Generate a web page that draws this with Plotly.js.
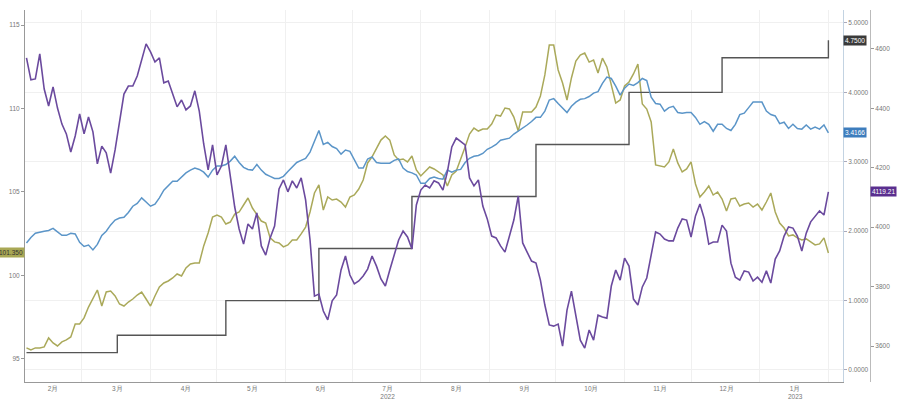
<!DOCTYPE html>
<html>
<head>
<meta charset="utf-8">
<script src="https://cdn.plot.ly/plotly-3.0.1.min.js"></script>
<style>
html,body{margin:0;padding:0;background:#fff;}
#chart{width:911px;height:407px;}
</style>
</head>
<body>
<div id="chart"></div>
<script>
const dates = [
'2022-02-04','2022-02-06','2022-02-08','2022-02-10','2022-02-12','2022-02-14','2022-02-16','2022-02-18','2022-02-20','2022-02-22','2022-02-24','2022-02-26','2022-02-28',
'2022-03-02','2022-03-04','2022-03-06','2022-03-08','2022-03-10','2022-03-12','2022-03-14','2022-03-16','2022-03-18','2022-03-20','2022-03-22','2022-03-24','2022-03-26','2022-03-28','2022-03-30',
'2022-04-01','2022-04-03','2022-04-05','2022-04-07','2022-04-09','2022-04-11','2022-04-13','2022-04-15','2022-04-17','2022-04-19','2022-04-21','2022-04-23','2022-04-25','2022-04-27','2022-04-29',
'2022-05-01','2022-05-03','2022-05-05','2022-05-07','2022-05-09','2022-05-11','2022-05-13','2022-05-15','2022-05-17','2022-05-19','2022-05-21','2022-05-23','2022-05-25','2022-05-27','2022-05-29','2022-05-31',
'2022-06-02','2022-06-04','2022-06-06','2022-06-08','2022-06-10','2022-06-12','2022-06-14','2022-06-16','2022-06-18','2022-06-20','2022-06-22','2022-06-24','2022-06-26','2022-06-28','2022-06-30',
'2022-07-02','2022-07-04','2022-07-06','2022-07-08','2022-07-10','2022-07-12','2022-07-14','2022-07-16','2022-07-18','2022-07-20','2022-07-22','2022-07-24','2022-07-26','2022-07-28','2022-07-30',
'2022-08-01','2022-08-03','2022-08-05','2022-08-07','2022-08-09','2022-08-11','2022-08-13','2022-08-15','2022-08-17','2022-08-19','2022-08-21','2022-08-23','2022-08-25','2022-08-27','2022-08-29','2022-08-31',
'2022-09-02','2022-09-04','2022-09-06','2022-09-08','2022-09-10','2022-09-12','2022-09-14','2022-09-16','2022-09-18','2022-09-20','2022-09-22','2022-09-24','2022-09-26','2022-09-28','2022-09-30',
'2022-10-02','2022-10-04','2022-10-06','2022-10-08','2022-10-10','2022-10-12','2022-10-14','2022-10-16','2022-10-18','2022-10-20','2022-10-22','2022-10-24','2022-10-26','2022-10-28','2022-10-30',
'2022-11-01','2022-11-03','2022-11-05','2022-11-07','2022-11-09','2022-11-11','2022-11-13','2022-11-15','2022-11-17','2022-11-19','2022-11-21','2022-11-23','2022-11-25','2022-11-27','2022-11-29',
'2022-12-01','2022-12-03','2022-12-05','2022-12-07','2022-12-09','2022-12-11','2022-12-13','2022-12-15','2022-12-17','2022-12-19','2022-12-21','2022-12-23','2022-12-25','2022-12-27','2022-12-29','2022-12-31',
'2023-01-02','2023-01-04','2023-01-06','2023-01-08','2023-01-10','2023-01-12','2023-01-14','2023-01-16','2023-01-18','2023-01-20','2023-01-22','2023-01-24','2023-01-26','2023-01-28','2023-01-30',
'2023-02-01'
];

// S&P 500 (right outer axis, 3600-4600)
const spx = [
4570,4496,4499,4583,4465,4408,4472,4401,4347,4314,
4253,4307,4381,4314,4371,4321,4213,4273,4250,4182,
4260,4358,4448,4475,4475,4509,4560,4617,4590,4556,
4570,4486,4492,4445,4405,4428,4395,4408,4459,4391,
4280,4193,4277,4176,4206,4277,4169,4068,3994,3943,
4011,3994,4048,3937,3906,3964,4004,4129,4159,4119,
4156,4132,4166,4092,3957,3768,3775,3718,3688,3752,
3772,3856,3903,3839,3809,3819,3836,3859,3903,3869,
3826,3802,3856,3910,3957,3987,3967,3927,4075,4125,
4142,4132,4156,4149,4125,4186,4270,4300,4290,4277,
4166,4139,4159,4071,4028,3970,3964,3937,3916,3970,
4024,4105,3947,3916,3886,3879,3822,3738,3671,3667,
3674,3600,3721,3785,3698,3620,3593,3654,3620,3704,
3698,3694,3802,3856,3822,3896,3869,3758,3738,3799,
3829,3906,3984,3977,3960,3954,3954,3997,4028,4024,
3967,4038,4078,4028,3943,3950,3950,4007,3987,3879,
3832,3822,3853,3849,3819,3832,3815,3853,3812,3893,
3920,3970,4001,3997,3970,3920,3980,4018,4038,4055,
4041,4119.21
];

// US 10Y yield (right inner axis, 0-5)
const ust10y = [
1.83,1.91,1.97,1.99,2.00,2.01,2.04,1.99,1.94,1.94,
1.97,1.96,1.84,1.78,1.80,1.73,1.81,1.94,2.00,2.09,
2.16,2.19,2.20,2.27,2.36,2.40,2.48,2.42,2.36,2.39,
2.48,2.59,2.66,2.72,2.72,2.78,2.84,2.88,2.91,2.89,
2.85,2.78,2.88,2.94,2.94,2.96,3.01,3.08,2.99,2.92,
2.89,2.88,2.96,2.88,2.82,2.79,2.76,2.76,2.79,2.86,
2.92,2.99,3.02,3.05,3.14,3.30,3.45,3.25,3.28,3.22,
3.19,3.11,3.17,3.15,3.04,2.91,2.91,3.04,3.07,2.99,
2.98,2.98,2.98,3.02,3.04,2.91,2.86,2.84,2.81,2.69,
2.69,2.76,2.78,2.76,2.75,2.88,2.85,2.88,2.89,2.99,
3.05,3.08,3.09,3.12,3.18,3.21,3.25,3.31,3.32,3.34,
3.40,3.44,3.48,3.53,3.58,3.64,3.64,3.73,3.89,3.91,
3.84,3.77,3.71,3.80,3.86,3.90,3.91,3.94,3.99,4.01,
4.13,4.22,4.20,4.09,3.96,4.06,4.12,4.10,4.14,4.20,
4.17,3.93,3.84,3.83,3.73,3.78,3.80,3.71,3.70,3.71,
3.71,3.64,3.54,3.58,3.54,3.44,3.54,3.54,3.48,3.45,
3.54,3.68,3.70,3.78,3.86,3.86,3.86,3.73,3.68,3.66,
3.55,3.57,3.48,3.54,3.48,3.47,3.53,3.47,3.50,3.47,
3.53,3.4166
];

// Dollar index (left axis, 95-115)
const dxy = [
95.66,95.54,95.66,95.66,95.72,96.26,95.96,95.78,96.02,96.14,
96.32,97.10,97.10,97.46,98.11,98.65,99.13,98.17,99.01,99.07,
98.77,98.29,98.17,98.41,98.59,98.83,99.01,98.59,98.17,98.77,
99.31,99.55,99.67,99.85,100.09,99.97,100.45,100.69,100.75,100.75,
101.77,102.54,103.50,103.62,103.50,103.08,103.20,103.68,103.80,104.22,
104.64,104.04,103.62,103.26,103.14,102.25,102.01,101.95,101.71,101.83,
102.13,102.13,102.49,102.90,103.80,104.94,105.42,103.92,104.70,104.52,
104.58,104.40,104.10,104.70,104.82,105.18,105.72,106.74,107.10,107.63,
108.11,108.35,108.11,107.22,106.92,106.98,106.80,107.16,106.32,105.96,
106.20,106.50,106.38,106.20,106.02,105.36,106.02,106.26,106.92,107.69,
108.47,108.83,108.65,108.77,108.77,109.07,109.61,109.55,110.03,109.97,
109.49,108.65,109.79,109.79,109.79,110.09,110.75,112.01,113.80,113.80,
112.31,111.53,110.51,111.83,112.84,113.20,113.32,112.78,112.90,112.13,
113.02,112.49,111.35,110.33,110.51,111.35,111.59,112.07,112.66,110.27,
109.97,109.19,106.62,106.56,106.50,106.80,107.57,106.74,106.20,106.38,
106.80,105.48,104.70,105.00,105.36,104.82,105.00,104.58,103.86,104.58,
104.64,104.16,104.28,104.34,104.10,104.28,103.92,104.40,104.94,103.80,
103.14,102.84,102.37,102.43,102.25,102.13,102.19,102.01,101.83,101.89,
102.25,101.35
];

// Fed funds target upper bound (right inner axis)
const fedDates = ['2022-02-04','2022-03-17','2022-05-05','2022-06-16','2022-07-28','2022-09-22','2022-11-03','2022-12-15','2023-02-01'];
const fedRate  = [0.25,0.50,1.00,1.75,2.50,3.25,4.00,4.50,4.75];

const monthTickDates = ['2022-02-16','2022-03-17','2022-04-17','2022-05-17','2022-06-17','2022-07-17','2022-08-17','2022-09-17','2022-10-17','2022-11-17','2022-12-17','2023-01-17'];
const monthTickText  = ['2月','3月','4月','5月','6月','7月<br>2022','8月','9月','10月','11月','12月','1月<br>2023'];

const dxyTicks = [95,100,105,110,115];
const rateTicks = [0,1,2,3,4,5];
const spxTicks = [3600,3800,4000,4200,4400,4600];

const C = {fed:'#555555', dxy:'#aaa95a', ust:'#5b95c8', spx:'#6b4a9e'};
const FONT = 'Liberation Sans, Arial, sans-serif';
const tickFont = {family: FONT, size: 6.5, color: '#777'};

const xEnd = 0.9612;
const traces = [
  {x: fedDates, y: fedRate, type:'scatter', mode:'lines', line:{color:C.fed, width:1.4, shape:'hv'}, yaxis:'y2', xaxis:'x'},
  {x: dates, y: dxy, type:'scatter', mode:'lines', line:{color:C.dxy, width:1.5}, yaxis:'y', xaxis:'x'},
  {x: dates, y: ust10y, type:'scatter', mode:'lines', line:{color:C.ust, width:1.5}, yaxis:'y2', xaxis:'x'},
  {x: dates, y: spx, type:'scatter', mode:'lines', line:{color:C.spx, width:1.6}, yaxis:'y3', xaxis:'x'}
];

const last = a => a[a.length-1];
const tag = (xref, x, xanchor, yref, y, text, bg, fc) => ({
  xref, x, xanchor, yref, y, yanchor:'middle', text, showarrow:false,
  bgcolor:bg, font:{family:FONT, size:6.5, color:fc}, borderpad:1
});

const layout = {
  width:911, height:407,
  margin:{l:25, r:35, t:10, b:25},
  paper_bgcolor:'#fff', plot_bgcolor:'#fff',
  showlegend:false,
  xaxis:{
    type:'date', domain:[0, xEnd],
    range:['2022-02-03 08:00','2023-02-07 14:00'],
    tickmode:'array', tickvals: monthTickDates, ticktext: monthTickText,
    tickfont: tickFont, ticks:'', showgrid:false,
    showline:true, linecolor:'#999', linewidth:1, zeroline:false,
    minor:{dtick:'M1', tick0:'2022-02-01', showgrid:true, gridcolor:'#f0f0f0', gridwidth:1, ticks:''},
    automargin:false
  },
  yaxis:{
    range:[93.62, 115.9], tickmode:'array', tickvals: dxyTicks,
    tickfont: tickFont, ticks:'outside', ticklen:3, tickcolor:'#999',
    showgrid:false, zeroline:false, showline:true, linecolor:'#999', linewidth:1,
    automargin:false
  },
  yaxis2:{
    overlaying:'y', side:'right', anchor:'x',
    range:[-0.173, 5.187], tickmode:'array', tickvals: rateTicks, tickformat:'.4f',
    tickfont: tickFont, ticks:'outside', ticklen:3, tickcolor:'#aab',
    showgrid:true, gridcolor:'#f0f0f0', zeroline:false,
    showline:true, linecolor:'#c3d3e2', linewidth:1, automargin:false
  },
  yaxis3:{
    overlaying:'y', side:'right', anchor:'free', position:0.993,
    range:[3479, 4731], tickmode:'array', tickvals: spxTicks,
    tickfont: tickFont, ticks:'outside', ticklen:3, tickcolor:'#999',
    showgrid:false, zeroline:false, showline:true, linecolor:'#bbb', linewidth:1,
    automargin:false
  },
  annotations:[
    tag('paper', 0, 'right', 'y', last(dxy), last(dxy).toFixed(3), '#a9a855', '#333'),
    tag('paper', xEnd, 'left', 'y2', last(fedRate), last(fedRate).toFixed(4), '#3a3a3a', '#fff'),
    tag('paper', xEnd, 'left', 'y2', last(ust10y), last(ust10y).toFixed(4), '#3d7dbd', '#fff'),
    tag('paper', 0.993, 'left', 'y3', last(spx), last(spx).toFixed(2), '#5a2f8f', '#fff')
  ]
};

Plotly.newPlot('chart', traces, layout, {displayModeBar:false, staticPlot:true});
</script>
</body>
</html>
